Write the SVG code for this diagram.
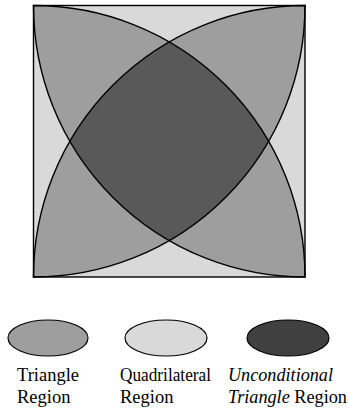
<svg xmlns="http://www.w3.org/2000/svg" width="348" height="408" viewBox="0 0 348 408">
<style>
.ln{stroke:#000;stroke-width:1.4;fill:none}
.med{fill:#9e9e9e}
.lt{fill:#d9d9d9}
.dk{fill:#595959}
.dk2{fill:#404040}
.lg{stroke:#000;stroke-width:1.2}
.tx{font-family:'Liberation Serif','Times New Roman',serif;font-size:18.5px;fill:#000}
.it{font-style:italic}
</style>
<defs>
<path id="lensA" d="M33.5,5.5 A271.5,271.5 0 0 1 305,277 A271.5,271.5 0 0 1 33.5,5.5 Z"/>
<path id="lensB" d="M305,5.5 A271.5,271.5 0 0 0 33.5,277 A271.5,271.5 0 0 0 305,5.5 Z"/>
<clipPath id="clipB"><use href="#lensB"/></clipPath>
</defs>
<g id="diagram">
<rect x="33.5" y="5.5" width="271.5" height="271.5" class="lt"/>
<use href="#lensA" class="med"/>
<use href="#lensB" class="med"/>
<use href="#lensA" class="dk" clip-path="url(#clipB)"/>
<use href="#lensA" class="ln"/>
<use href="#lensB" class="ln"/>
<rect x="33.5" y="5.5" width="271.5" height="271.5" class="ln" stroke-width="1.6"/>
</g>
<g id="legend-triangle">
<ellipse cx="48" cy="338" rx="40" ry="18" class="med lg"/>
<text x="17" y="381" class="tx">Triangle</text>
<text x="17" y="403" class="tx">Region</text>
</g>
<g id="legend-quadrilateral">
<ellipse cx="166" cy="338" rx="41" ry="18" class="lt lg"/>
<text x="120" y="381" class="tx" textLength="91" lengthAdjust="spacingAndGlyphs">Quadrilateral</text>
<text x="120" y="403" class="tx">Region</text>
</g>
<g id="legend-unconditional">
<ellipse cx="288" cy="338" rx="41" ry="18" class="dk2 lg"/>
<text x="228" y="381" class="tx it" textLength="105" lengthAdjust="spacingAndGlyphs">Unconditional</text>
<text x="228" y="403" class="tx" textLength="119" lengthAdjust="spacingAndGlyphs"><tspan class="it">Triangle</tspan> Region</text>
</g>
</svg>
